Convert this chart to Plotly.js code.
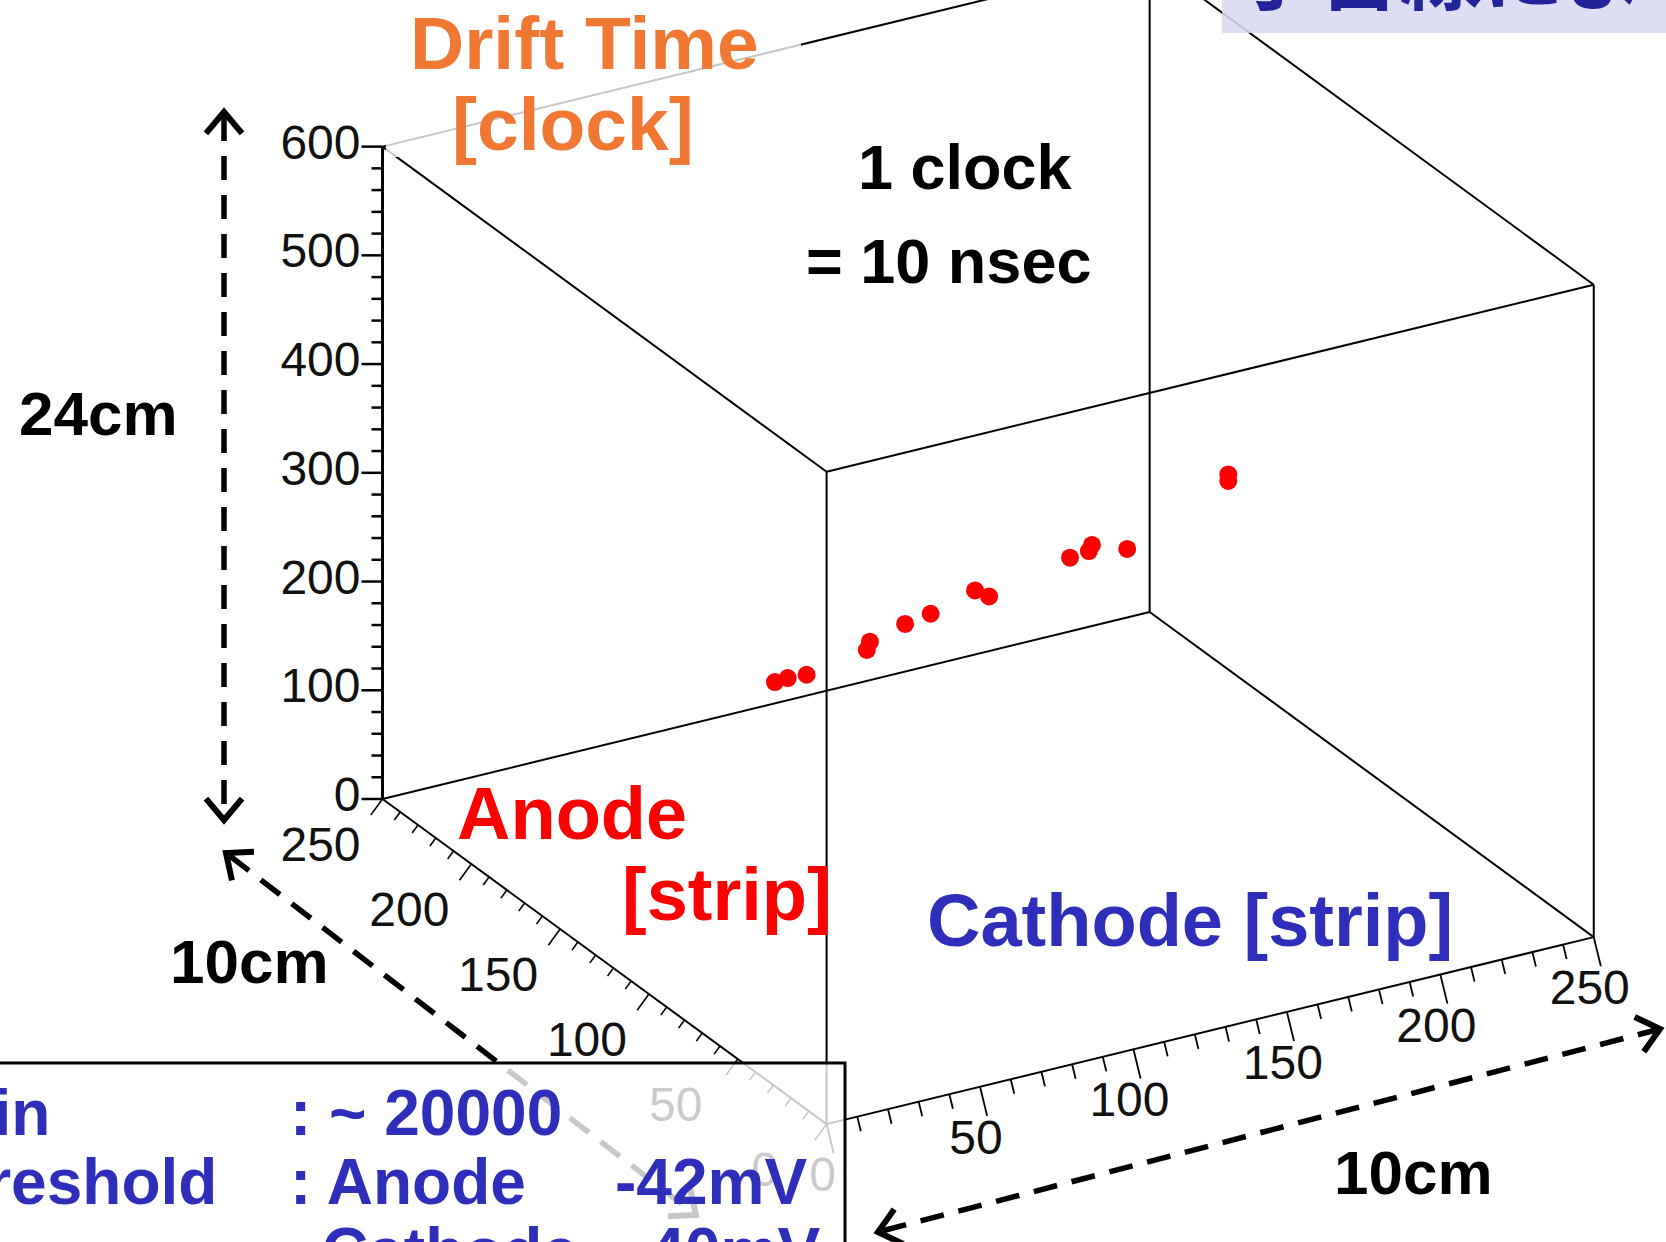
<!DOCTYPE html>
<html><head><meta charset="utf-8">
<script src="https://cdn.plot.ly/plotly-3.0.1.min.js"></script>
<style>html,body{margin:0;padding:0;background:#fff;overflow:hidden}#chart{width:1666px;height:1242px}</style>
</head><body><div id="chart"></div>
<script>
// ---- data: reconstructed hits (anode strip, cathode strip, drift time in clocks)
const anodeStrip   = [150,148,146,138,138,132,128,122,121,110,108,108,102,90,90];
const cathodeStrip = [70,73,78,93,94,102,108,119,123,143,148,149,157,183,183];
const driftClock   = [179,183,185,207,214,232,242,263,256,291,296,301,299,358,364];
// ---- axes
const anodeRange   = [0,250];
const cathodeRange = [0,250];
const timeRange    = [0,600];
const timeTicks    = [0,100,200,300,400,500,600];
const anodeTicks   = [0,50,100,150,200,250];
const cathodeTicks = [0,50,100,150,200,250];

const W=1666,H=1242;
const FONT='Liberation Sans, Arial, Helvetica, sans-serif';
// oblique 3D projection onto the page (ROOT-like view)
const ORIGIN=[826.6,1124.1];
const UA=[-1.7764,-1.3004], UC=[3.0686,-0.748], UT=[0,-1.0873];
function proj(a,c,t){ return [ORIGIN[0]+a*UA[0]+c*UC[0]+t*UT[0], ORIGIN[1]+a*UA[1]+c*UC[1]+t*UT[1]]; }

const shapes=[];
function seg(p,q,opt){ opt=opt||{}; shapes.push({type:'line',xref:'x',yref:'y',x0:p[0],y0:p[1],x1:q[0],y1:q[1],layer:opt.layer||'below',line:{color:opt.color||'#000',width:opt.width||2,dash:opt.dash||'solid'}}); }
function pathS(d,opt){ opt=opt||{}; shapes.push({type:'path',xref:'x',yref:'y',path:d,layer:opt.layer||'above',line:{color:opt.color||'#000',width:opt.width||6}}); }

// box edges
const A=anodeRange, C=cathodeRange, T=timeRange;
A.forEach(a=>C.forEach(c=>seg(proj(a,c,T[0]),proj(a,c,T[1]))));
A.forEach(a=>T.forEach(t=>seg(proj(a,C[0],t),proj(a,C[1],t))));
C.forEach(c=>T.forEach(t=>seg(proj(A[0],c,t),proj(A[1],c,t))));
seg(proj(A[1],C[0],T[0]),proj(A[1],C[0],T[1]),{width:3});

// time axis ticks (left side)
for(let t=T[0];t<=T[1];t+=20){ const p=proj(A[1],C[0],t); const L=(t%100===0)?21:11; seg([p[0]-L,p[1]],p,{width:2.5}); }
// anode axis ticks
const nA=[-0.5907,0.8069];
for(let a=A[0];a<=A[1];a+=10){ const p=proj(a,C[0],T[0]); const L=(a%50===0)?20:10; seg(p,[p[0]+nA[0]*L,p[1]+nA[1]*L],{width:1.6}); }
// cathode axis ticks
const nC=[0.2368,0.9715];
for(let c=C[0];c<=C[1];c+=10){ const p=proj(A[0],c,T[0]); const L=(c%50===0)?30:15; seg(p,[p[0]+nC[0]*L,p[1]+nC[1]*L],{width:1.8}); }

// dashed double arrows (annotation graphics)
function unit(v){ const l=Math.hypot(v[0],v[1]); return [v[0]/l,v[1]/l]; }
function chevron(tip,dir,len,ang){
  const b=[-dir[0],-dir[1]];
  const r=(v,a)=>[v[0]*Math.cos(a)-v[1]*Math.sin(a), v[0]*Math.sin(a)+v[1]*Math.cos(a)];
  const r1=r(b,ang), r2=r(b,-ang);
  return `M${tip[0]+r1[0]*len},${tip[1]+r1[1]*len} L${tip[0]},${tip[1]} L${tip[0]+r2[0]*len},${tip[1]+r2[1]*len}`;
}
function dblArrow(p,q){
  const d=unit([q[0]-p[0],q[1]-p[1]]);
  seg([p[0]+d[0]*5,p[1]+d[1]*5],[q[0]-d[0]*5,q[1]-d[1]*5],{layer:'above',width:5.5,dash:'24px,15px'});
  pathS(chevron(q,d,28,0.7));
  pathS(chevron(p,[-d[0],-d[1]],28,0.7));
}
dblArrow([224,112],[224,820]);
dblArrow([226,853],[696,1215]);
dblArrow([878,1232],[1660,1029]);

// semi-transparent text boxes
shapes.push({type:'rect',xref:'x',yref:'y',x0:386,x1:801,y0:-5,y1:157,layer:'above',fillcolor:'rgba(255,255,255,0.78)',line:{width:0}});
shapes.push({type:'rect',xref:'x',yref:'y',x0:1222,x1:1672,y0:-5,y1:33,layer:'above',fillcolor:'rgba(216,216,243,0.88)',line:{width:0}});
shapes.push({type:'rect',xref:'x',yref:'y',x0:-6,x1:845,y0:1063,y1:1252,layer:'above',fillcolor:'rgba(255,255,255,0.78)',line:{color:'#000',width:3}});

// traces
const pts=anodeStrip.map((a,i)=>proj(a,cathodeStrip[i],driftClock[i]));
const tP=timeTicks.map(t=>proj(A[1],C[0],t));
const aP=anodeTicks.map(a=>proj(a,C[0],T[0]));
const cP=cathodeTicks.map(c=>proj(A[0],c,T[0]));
const tickFont={family:FONT,size:48,color:'#111'};
const traces=[
  {type:'scatter',mode:'markers',x:pts.map(p=>p[0]),y:pts.map(p=>p[1]),marker:{color:'#ff0000',size:18,line:{width:0}},hoverinfo:'skip'},
  {type:'scatter',mode:'text',x:tP.map(p=>p[0]-22),y:tP.map(p=>p[1]),text:timeTicks.map(String),textposition:'middle left',textfont:tickFont,hoverinfo:'skip'},
  {type:'scatter',mode:'text',x:aP.map(p=>p[0]-62),y:aP.map(p=>p[1]+50),text:anodeTicks.map(String),textposition:'middle center',textfont:tickFont,hoverinfo:'skip'},
  {type:'scatter',mode:'text',x:cP.map(p=>p[0]-4),y:cP.map(p=>p[1]+55),text:cathodeTicks.map(String),textposition:'middle center',textfont:tickFont,hoverinfo:'skip'}
];

// annotations (page pixel -> paper)
const anns=[];
function ann(text,x,y,size,color,xa,fam){
  anns.push({xref:'paper',yref:'paper',x:x/W,y:1-y/H,xanchor:xa||'center',yanchor:'middle',showarrow:false,
    text:text,font:{family:fam||FONT,size:size,color:color},borderpad:0});
}
const ORANGE='#F07832', BLUE='#2E2EBA', RED='#FF0000', BLK='#000';
ann('<b>Drift Time</b>',584,43,75,ORANGE);
ann('<b>[clock]</b>',573,124,75,ORANGE);
ann('<b>1 clock</b>',965,167,63,BLK);
ann('<b>= 10 nsec</b>',948,261,63,BLK);
ann('<b>24cm</b>',98,414,62,BLK);
ann('<b>10cm</b>',249,961,62,BLK);
ann('<b>10cm</b>',1413,1172,62,BLK);
ann('<b>Anode</b>',572,813,74,RED);
ann('<b>[strip]</b>',727,894,74,RED);
ann('<b>Cathode [strip]</b>',1190,920,74,BLUE);
ann('<b>Gain</b>',51,1113,64,BLUE,'right');
ann('<b>: ~ 20000</b>',289,1113,64,BLUE,'left');
ann('<b>Threshold</b>',218,1182,64,BLUE,'right');
ann('<b>: Anode</b>',289,1182,64,BLUE,'left');
ann('<b>-42mV</b>',614,1182,64,BLUE,'left');
ann('<b>Cathode</b>',321,1251,64,BLUE,'left');
ann('<b>-40mV</b>',627,1251,64,BLUE,'left');
ann('<b>宇宙線による飛跡</b>',1235,-33,82,'#23239A','left','Noto Sans CJK JP');

const layout={width:W,height:H,margin:{l:0,r:0,t:0,b:0},paper_bgcolor:'#fff',plot_bgcolor:'#fff',showlegend:false,
  xaxis:{range:[0,W],visible:false,fixedrange:true},
  yaxis:{range:[H,0],visible:false,fixedrange:true},
  shapes:shapes,annotations:anns};
Plotly.newPlot('chart',traces,layout,{staticPlot:true,displayModeBar:false});
</script></body></html>
